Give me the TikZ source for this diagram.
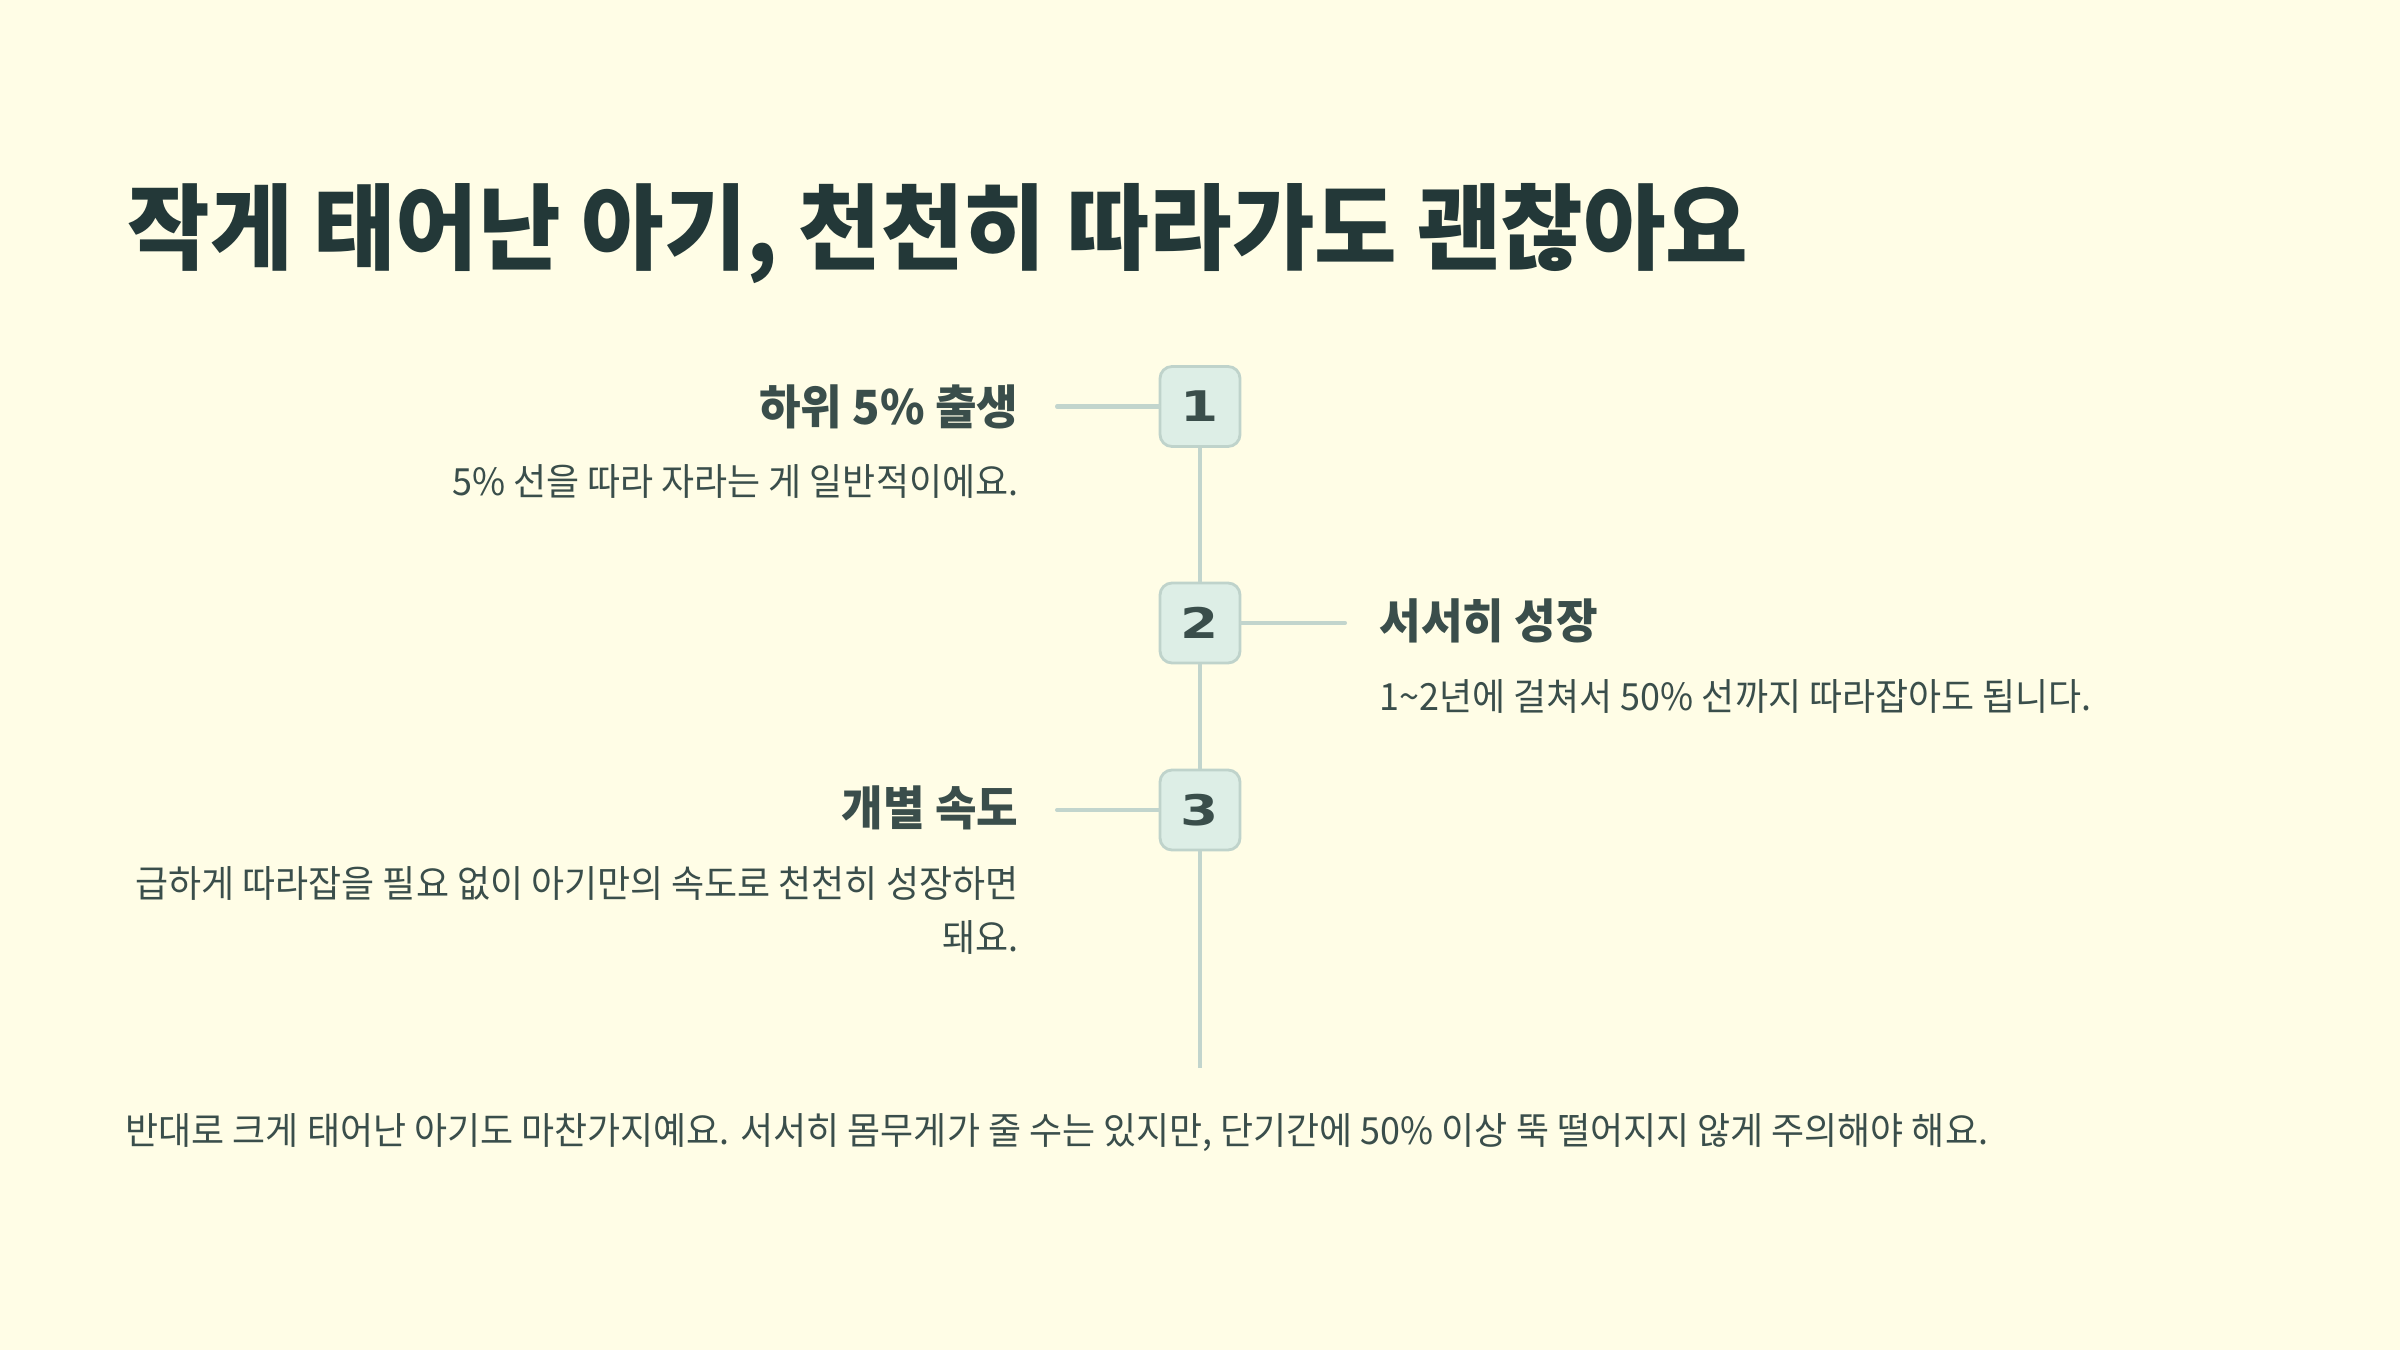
\documentclass[tikz,border=0pt]{standalone}
\usepackage{fontspec}
\setmainfont{Noto Sans CJK KR}[FakeStretch=0.96]
\newfontfamily\numfont{DejaVu Sans}[FakeStretch=1.3]

\definecolor{bgcol}{HTML}{FFFDE6}
\definecolor{titlecol}{HTML}{233838}
\definecolor{textcol}{HTML}{3A4E4B}
\definecolor{linecol}{HTML}{C2D5CD}
\definecolor{boxfill}{HTML}{DDEEE6}
\definecolor{boxdraw}{HTML}{BFD3CB}

\begin{document}
\begin{tikzpicture}[
		stepnum/.style={draw=boxdraw, fill=boxfill, line width=0.8pt, rounded corners=0.12cm,
			minimum width=0.8cm, minimum height=0.8cm, inner sep=0pt, text=textcol,
			font=\numfont\bfseries\fontsize{12}{13}\selectfont},
		heading/.style={inner sep=0pt, text=textcol, font=\bfseries\fontsize{13.4}{16}\selectfont},
		desc/.style={inner sep=0pt, text=textcol, font=\fontsize{10.65}{15.6}\selectfont},
		link/.style={draw=linecol, line width=1.15pt, line cap=round}]
		
		\fill[bgcol] (0,0) rectangle (24,13.5);
		\useasboundingbox (0,0) rectangle (24,13.5);
		
		\node[anchor=west, inner sep=0pt, text=titlecol, font=\bfseries\fontsize{26.6}{30}\selectfont] (title) at (1.27,11.16) {작게 태어난 아기, 천천히 따라가도 괜찮아요};
		
		\node[stepnum] (n1) at (12,9.435) {1};
		\node[stepnum] (n2) at (12,7.27) {2};
		\node[stepnum] (n3) at (12,5.40) {3};
		\coordinate (tail) at (12,2.82);
		
		\node[heading, anchor=east] (h1) at (10.19,9.43) {하위 5\% 출생};
		\node[desc, anchor=east] (d1) at (10.19,8.69) {5\% 선을 따라 자라는 게 일반적이에요.};
		
		\node[heading, anchor=west] (h2) at (13.79,7.29) {서서히 성장};
		\node[desc, anchor=west] (d2) at (13.79,6.54) {1\textasciitilde2년에 걸쳐서 50\% 선까지 따라잡아도 됩니다.};
		
		\node[heading, anchor=east] (h3) at (10.19,5.42) {개별 속도};
		\node[desc, anchor=east, align=right] (d3) at (10.19,4.395) {급하게 따라잡을 필요 없이 아기만의 속도로 천천히 성장하면\\돼요.};
		
		\node[desc, anchor=west] (foot) at (1.25,2.17) {반대로 크게 태어난 아기도 마찬가지예요. 서서히 몸무게가 줄 수는 있지만, 단기간에 50\% 이상 뚝 떨어지지 않게 주의해야 해요.};
		
		\coordinate (c1) at (10.57,9.435);
		\coordinate (c2) at (13.45,7.27);
		\coordinate (c3) at (10.57,5.40);
		
		\draw[link] (c1) -- (n1.west);
		\draw[link] (n2.east) -- (c2);
		\draw[link] (c3) -- (n3.west);
		
		\draw[link, line cap=butt] (n1.south) -- (n2.north);
		\draw[link, line cap=butt] (n2.south) -- (n3.north);
		\draw[link, line cap=butt] (n3.south) -- (tail);
		
	\end{tikzpicture}
\end{document}
